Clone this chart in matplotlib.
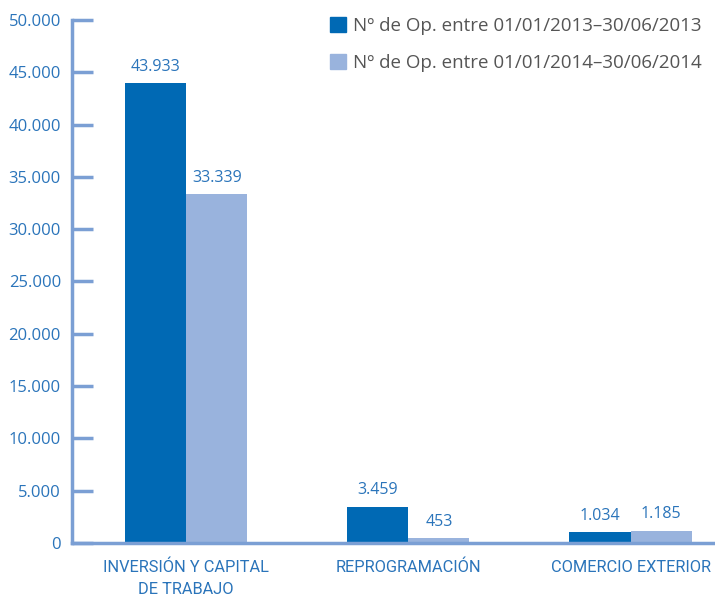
import numpy as np
import matplotlib
matplotlib.use("Agg")
import matplotlib.pyplot as plt
from matplotlib.ticker import FuncFormatter
from matplotlib.patches import Patch

categorias = ["INVERSIÓN Y CAPITAL\nDE TRABAJO", "REPROGRAMACIÓN", "COMERCIO EXTERIOR"]
ops_2013 = [43933, 3459, 1034]
ops_2014 = [33339, 453, 1185]
series = ["Nº de Op. entre 01/01/2013–30/06/2013", "Nº de Op. entre 01/01/2014–30/06/2014"]

oscuro = "#0069b4"
claro = "#99b3dd"
eje = "#7b9fd4"
azul_txt = "#2a74ba"

plt.rcParams['font.family'] = ['Open Sans', 'DejaVu Sans']

fig = plt.figure(figsize=(7.15, 6), dpi=100)
ax = fig.add_axes([0.1007, 0.095, 0.8993, 0.8717])

x = np.arange(len(categorias))
w = 0.275
b1 = ax.bar(x - w/2, ops_2013, w, color=oscuro)
b2 = ax.bar(x + w/2, ops_2014, w, color=claro)

def miles(v, pos=None):
    return f"{int(v):,}".replace(",", ".")

for barras in (b1, b2):
    for b in barras:
        h = b.get_height()
        ax.annotate(miles(h), (b.get_x() + b.get_width()/2, h), xytext=(0, 6),
                    textcoords="offset points", ha="center", va="bottom",
                    color=azul_txt, fontsize=11.5)

ax.set_ylim(0, 50000)
ax.set_xlim(-0.514, 2.38)
ax.set_yticks(np.arange(0, 50001, 5000))
ax.yaxis.set_major_formatter(FuncFormatter(miles))
ax.set_xticks(x)
ax.set_xticklabels(categorias, family=['Roboto', 'DejaVu Sans'], fontsize=11.8,
                   color=azul_txt, linespacing=1.55)

for s in ["top", "right"]:
    ax.spines[s].set_visible(False)
for s in ["left", "bottom"]:
    ax.spines[s].set_color(eje)
    ax.spines[s].set_linewidth(2.5)

ax.tick_params(axis="y", direction="in", length=15, width=2.5, color=eje,
               labelcolor=azul_txt, labelsize=12, pad=8)
ax.tick_params(axis="x", length=0, pad=12)

handles = [Patch(color=oscuro), Patch(color=claro)]
fig.legend(handles, series, loc="upper left", bbox_to_anchor=(0.438, 1.0),
           frameon=False, fontsize=13.5, handlelength=0.85, handleheight=0.85,
           handletextpad=0.35, labelspacing=1.0, labelcolor="#555555")

fig.savefig("out.png", dpi=100)
